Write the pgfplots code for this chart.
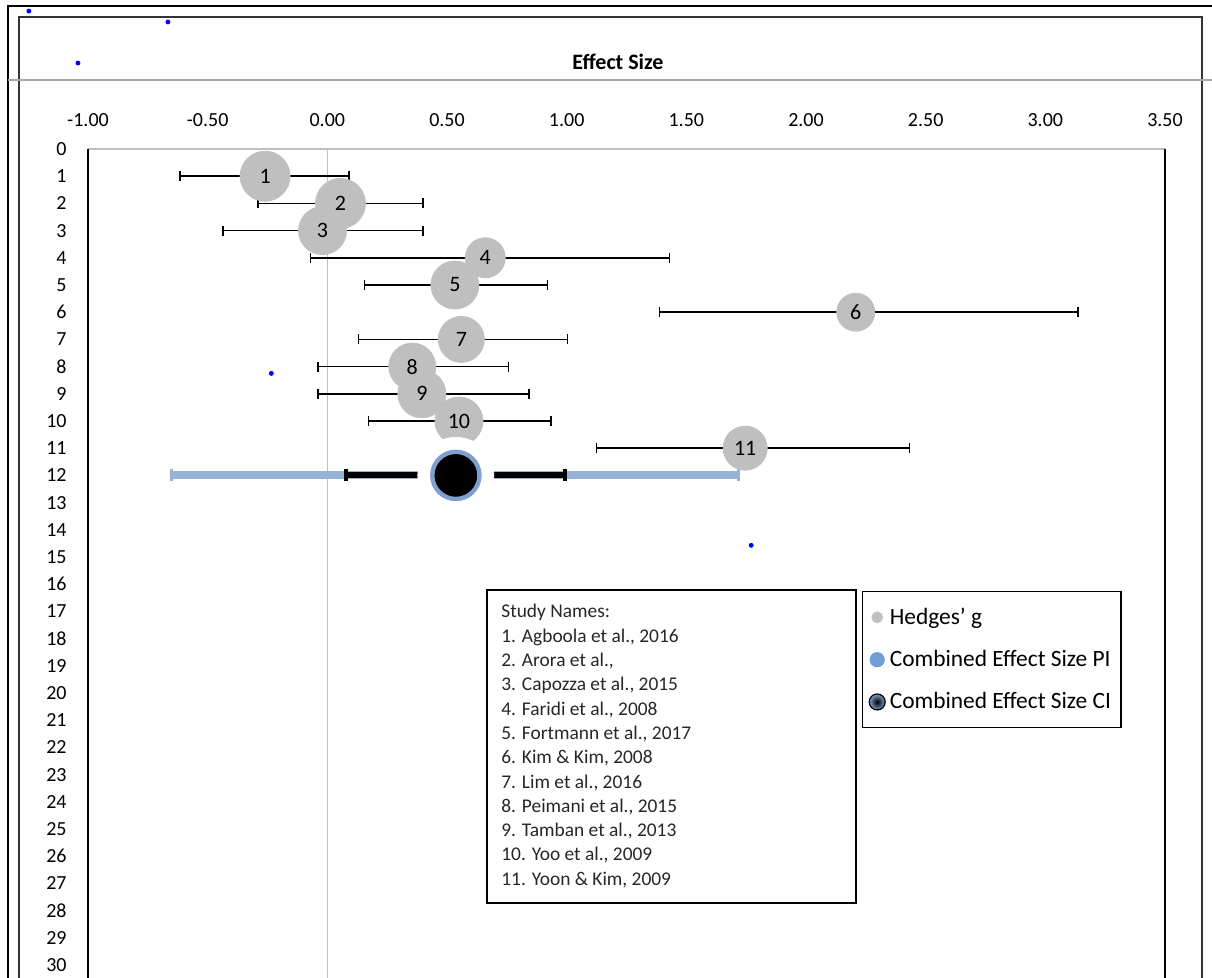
\documentclass[border=0pt]{standalone}
\usepackage{pgfplots}
\pgfplotsset{compat=1.18}
\usepackage{pgfplotstable}
\usepackage{fontspec}
\setmainfont{Carlito}

\definecolor{hgray}{HTML}{BFBFBF}
\definecolor{piblue}{HTML}{95B3D7}
\definecolor{ringblue}{HTML}{7F9FCF}
\definecolor{dotblue}{HTML}{0000FF}
\definecolor{legblue}{HTML}{6F9FD8}

\pgfplotstableread{
id g lo hi d
1 -0.26 -0.615 0.09 50
2 0.055 -0.29 0.40 50
3 -0.02 -0.436 0.40 48
4 0.66 -0.07 1.430 40
5 0.533 0.155 0.92 48
6 2.208 1.387 3.136 38
7 0.56 0.13 1.004 46
8 0.355 -0.039 0.758 47
9 0.395 -0.039 0.843 48
10 0.55 0.173 0.935 48
11 1.746 1.124 2.433 44
}\studies

\begin{document}
\begin{tikzpicture}
\clip (0,0) rectangle (606pt,489pt);
% outer frames and separator
\draw[line width=1.3pt] (4pt,-20pt) -- (4pt,486pt) -- (630pt,486pt);
\draw[line width=0.7pt, black!80] (9.5pt,-20pt) -- (9.5pt,480.5pt) -- (601pt,480.5pt) -- (601pt,-20pt);
\draw[line width=0.8pt, black!35] (4pt,449pt) -- (610pt,449pt);

\begin{axis}[
  at={(44pt,414.5pt)}, anchor=north west,
  scale only axis, width=538.5pt, height=421.6pt,
  xmin=-1, xmax=3.5, ymin=0, ymax=31, y dir=reverse,
  clip=false,
  axis line style={draw=none},
  major tick length=0pt,
  /pgf/number format/assume math mode=true,
  xtick={-1,-0.5,0,0.5,1,1.5,2,2.5,3,3.5},
  xticklabel pos=upper,
  xticklabel style={/pgf/number format/.cd, fixed, fixed zerofill, precision=2, /tikz/.cd, anchor=center, yshift=14.5pt},
  ytick={0,1,...,30},
  yticklabel style={anchor=east, inner sep=0pt, xshift=-10.5pt},
  tick label style={font=\fontsize{10}{12}\selectfont},
  title={Effect Size},
  title style={at={(0.5,1)}, anchor=center, yshift=37.5pt, xshift=-4.25pt, font=\bfseries\fontsize{11}{13}\selectfont},
  legend cell align=left,
  legend style={at={(axis cs:2.234,16.25)}, anchor=north west, draw=black, line width=0.6pt,
    font=\fontsize{11.7}{13.5}\selectfont, row sep=7.5pt, inner xsep=3pt, inner ysep=6pt,
    /tikz/every even column/.append style={column sep=1.5pt}},
]
% zero line and borders
\draw[hgray, line width=0.8pt] (axis cs:0,0) -- (axis cs:0,31);
\draw[hgray, line width=0.6pt] (axis cs:-1,0) -- (axis cs:3.5,0);
\draw[black, line width=0.75pt] (axis cs:-1,0) -- (axis cs:-1,31);
\draw[black, line width=0.75pt] (axis cs:3.5,0) -- (axis cs:3.5,31);

% study confidence intervals
\addplot[forget plot, only marks, mark=none,
  error bars/.cd, x dir=both, x explicit, error mark=|,
  error bar style={line width=0.75pt, black},
  error mark options={line width=0.75pt, mark size=2.5pt, black}]
  table[x=g, y=id, x error plus expr=\thisrow{hi}-\thisrow{g}, x error minus expr=\thisrow{g}-\thisrow{lo}] {\studies};

% study effect sizes (circle diameter in column d)
\addplot[scatter, only marks, mark=*, point meta=\thisrow{id},
  scatter/use mapped color={draw=hgray, fill=hgray},
  visualization depends on={\thisrow{d}/4 \as \rad},
  scatter/@pre marker code/.append style={/tikz/mark size=\rad},
  legend image code/.code={\fill[hgray] (0pt,0pt) circle (2.6pt);}]
  table[x=g, y=id] {\studies};
\addlegendentry{Hedges' g}

% study numbers
\addplot[forget plot, only marks, mark=none, point meta=\thisrow{id},
  nodes near coords,
  every node near coord/.append style={anchor=center, font=\fontsize{11}{13}\selectfont, text=black}]
  table[x=g, y=id] {\studies};

% prediction interval
\addplot[only marks, mark=none,
  error bars/.cd, x dir=both, x explicit, error mark=|,
  error bar style={line width=4pt, piblue},
  error mark options={line width=1.5pt, mark size=3pt, piblue},
  /pgfplots/legend image code/.code={\fill[legblue] (0pt,0pt) circle (3.5pt);}]
  coordinates {(0.537,12) += (1.179,0) -= (1.187,0)};
\addlegendentry{Combined Effect Size PI}

% confidence interval
\addplot[forget plot, only marks, mark=none,
  error bars/.cd, x dir=both, x explicit, error mark=|,
  error bar style={line width=3pt, black},
  error mark options={line width=2pt, mark size=3pt, black}]
  coordinates {(0.537,12) += (0.458,0) -= (0.461,0)};

% white halo around the combined marker
\addplot[forget plot, white, only marks, mark=*, mark size=19pt]
  coordinates {(0.537,12)};

% combined effect
\addplot[only marks, mark=*, mark size=11.8pt, mark options={fill=black, draw=ringblue, line width=2.2pt},
  legend image code/.code={\shade[inner color=black, outer color=ringblue] (0pt,0pt) circle (4pt);}]
  coordinates {(0.537,12)};
\addlegendentry{Combined Effect Size CI}

% stray dots
\addplot[forget plot, only marks, mark=*, mark size=1pt, dotblue]
  coordinates {(-1.247,-5.07) (-0.666,-4.67) (-1.042,-3.16) (-0.234,8.25) (1.771,14.57)};
\end{axis}

% study names box
\draw[line width=0.7pt] (243.5pt,37.5pt) rectangle (428pt,194pt);
\node[anchor=base west, inner sep=0pt, font=\fontsize{9.7}{12.15}\selectfont, text=black!85] at (250.5pt,180pt)
 {\begin{tabular}[t]{@{}l@{}}
 Study Names:\\
 1. Agboola et al., 2016\\
 2. Arora et al.,\\
 3. Capozza et al., 2015\\
 4. Faridi et al., 2008\\
 5. Fortmann et al., 2017\\
 6. Kim \& Kim, 2008\\
 7. Lim et al., 2016\\
 8. Peimani et al., 2015\\
 9. Tamban et al., 2013\\
 10. Yoo et al., 2009\\
 11. Yoon \& Kim, 2009
 \end{tabular}};
\end{tikzpicture}
\end{document}
